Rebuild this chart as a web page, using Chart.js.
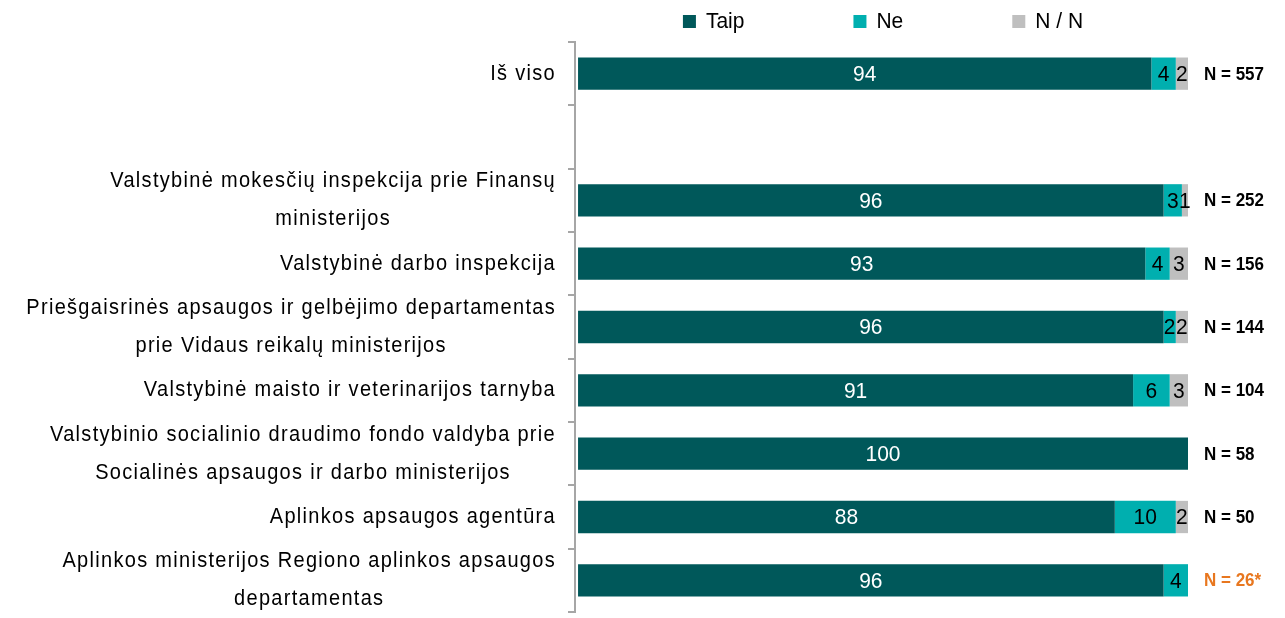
<!DOCTYPE html>
<html><head><meta charset="utf-8">
<script src="https://cdn.jsdelivr.net/npm/chart.js@4.4.1/dist/chart.umd.min.js"></script>
<style>html,body{margin:0;padding:0;background:#fff}</style>
</head><body>
<canvas id="c" width="1285" height="618"></canvas>
<script>
const categories = [
  'Iš viso',
  '',
  ['Valstybinė mokesčių inspekcija prie Finansų', 'ministerijos'],
  'Valstybinė darbo inspekcija',
  ['Priešgaisrinės apsaugos ir gelbėjimo departamentas', 'prie Vidaus reikalų ministerijos'],
  'Valstybinė maisto ir veterinarijos tarnyba',
  ['Valstybinio socialinio draudimo fondo valdyba prie', 'Socialinės apsaugos ir darbo ministerijos'],
  'Aplinkos apsaugos agentūra',
  ['Aplinkos ministerijos Regiono aplinkos apsaugos', 'departamentas']
];
const seriesNames = ['Taip', 'Ne', 'N / N'];
const taip = [94, null, 96, 93, 96, 91, 100, 88, 96];
const ne   = [4, null, 3, 4, 2, 6, 0, 10, 4];
const nn   = [2, null, 1, 3, 2, 3, 0, 2, 0];
const sampleLabels = ['N = 557', '', 'N = 252', 'N = 156', 'N = 144', 'N = 104', 'N = 58', 'N = 50', 'N = 26*'];
const smallSample  = [false, false, false, false, false, false, false, false, true];

const COLORS = ['#00585A', '#00AFAF', '#BFBFBF'];
const FONT = "'Liberation Sans', Arial, sans-serif";
const STRETCH = 1.08;

function tallText(ctx, text, x, y) {
  ctx.save();
  ctx.translate(x, y);
  ctx.scale(1, STRETCH);
  ctx.fillText(text, 0, 0);
  ctx.restore();
}

const customDraw = {
  id: 'customDraw',
  afterDatasetsDraw(chart) {
    const ctx = chart.ctx;
    ctx.save();
    ctx.font = '21px ' + FONT;
    ctx.textAlign = 'center';
    ctx.textBaseline = 'middle';
    chart.data.datasets.forEach((ds, di) => {
      const meta = chart.getDatasetMeta(di);
      meta.data.forEach((bar, i) => {
        const v = ds.data[i];
        if (!v) return;
        const p = bar.getProps(['x', 'base', 'y'], true);
        ctx.fillStyle = di === 0 ? '#ffffff' : '#000000';
        tallText(ctx, String(v), (p.x + p.base) / 2, p.y + 1);
      });
    });
    ctx.restore();
  },
  afterDraw(chart) {
    const ctx = chart.ctx;
    const ys = chart.scales.y, xs = chart.scales.x;
    const area = chart.chartArea;
    ctx.save();
    // category labels
    ctx.font = '20px ' + FONT;
    ctx.letterSpacing = '1.3px';
    ctx.fillStyle = '#000000';
    ctx.textBaseline = 'middle';
    ctx.textAlign = 'center';
    chart.data.labels.forEach((lab, i) => {
      const lines = Array.isArray(lab) ? lab : [lab];
      if (!lines.join('')) return;
      const cy = ys.getPixelForValue(i);
      const widths = lines.map(l => ctx.measureText(l).width);
      const maxW = Math.max(...widths);
      const right = area.left - 19;
      const lh = 38;
      lines.forEach((l, k) => {
        const yy = cy + (k - (lines.length - 1) / 2) * lh;
        tallText(ctx, l, right - maxW / 2, yy);
      });
    });
    ctx.letterSpacing = '0px';
    // sample size labels
    ctx.font = 'bold 17px ' + FONT;
    ctx.textAlign = 'left';
    sampleLabels.forEach((s, i) => {
      if (!s) return;
      ctx.fillStyle = smallSample[i] ? '#E8771F' : '#000000';
      tallText(ctx, s, area.right + 16, ys.getPixelForValue(i) + 1);
    });
    // legend
    ctx.font = '21px ' + FONT;
    const box = 13, gapText = 10, gapItem = 109;
    const items = chart.data.datasets.map(ds => ({label: ds.label, color: ds.backgroundColor,
      w: box + gapText + ctx.measureText(ds.label).width}));
    const total = items.reduce((a, it) => a + it.w, 0) + gapItem * (items.length - 1);
    const center = (xs.getPixelForValue(0) + area.right) / 2;
    let x = center - total / 2;
    const ly = 22;
    items.forEach(it => {
      ctx.fillStyle = it.color;
      ctx.fillRect(x, ly - 7, box, box);
      ctx.fillStyle = '#000000';
      tallText(ctx, it.label, x + box + gapText, ly);
      x += it.w + gapItem;
    });
    ctx.restore();
  }
};

new Chart(document.getElementById('c'), {
  type: 'bar',
  data: {
    labels: categories,
    datasets: [
      {label: seriesNames[0], data: taip, backgroundColor: COLORS[0]},
      {label: seriesNames[1], data: ne, backgroundColor: COLORS[1]},
      {label: seriesNames[2], data: nn, backgroundColor: COLORS[2]}
    ]
  },
  options: {
    indexAxis: 'y',
    responsive: false,
    animation: false,
    events: [],
    layout: {padding: {top: 42, bottom: 6, left: 0, right: 97}},
    datasets: {bar: {categoryPercentage: 1, barPercentage: 0.51, borderWidth: 0}},
    scales: {
      x: {stacked: true, display: false, min: -0.5, max: 100},
      y: {
        stacked: true,
        ticks: {display: false},
        grid: {drawOnChartArea: false, drawTicks: true, tickLength: 7, color: '#A6A6A6', lineWidth: 2},
        border: {display: true, color: '#A6A6A6', width: 2},
        afterFit(scale) { scale.width = 575; }
      }
    },
    plugins: {legend: {display: false}, tooltip: {enabled: false}}
  },
  plugins: [customDraw]
});
</script>
</body></html>
